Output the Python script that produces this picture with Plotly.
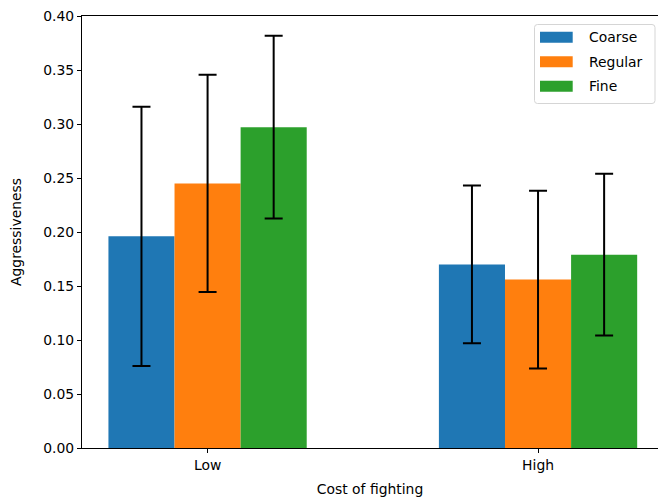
import plotly.graph_objects as go

categories = ["Low", "High"]
series_names = ["Coarse", "Regular", "Fine"]
colors = ["#1f77b4", "#ff7f0e", "#2ca02c"]
means = {
    "Coarse": [0.196, 0.170],
    "Regular": [0.245, 0.156],
    "Fine": [0.297, 0.179],
}
errors = {
    "Coarse": [0.120, 0.073],
    "Regular": [0.1005, 0.0823],
    "Fine": [0.0846, 0.0749],
}
y_ticks = [0.0, 0.05, 0.10, 0.15, 0.20, 0.25, 0.30, 0.35, 0.40]

FONT = "DejaVu Sans"
FS = 13.9
W, H = 658, 498
ML, MR, MT, MB = 82, 0, 16, 50
PW, PH = W - ML - MR, H - MT - MB


def px_x(p):
    return (p - ML) / PW


def px_y(p):
    return (H - MB - p) / PH


fig = go.Figure()
for name, col in zip(series_names, colors):
    fig.add_trace(go.Bar(
        name=name,
        x=categories,
        y=means[name],
        marker=dict(color=col, line=dict(width=0)),
        error_y=dict(type="data", array=errors[name], visible=True,
                     color="black", thickness=2, width=9),
        showlegend=False,
    ))

# legend (drawn manually to match matplotlib style)
shapes = []
annotations = []
bx0, bx1, by0, by1, r = 534.5, 655, 24.5, 103.5, 3
path = (f"M {px_x(bx0 + r)},{px_y(by0)} L {px_x(bx1 - r)},{px_y(by0)} "
        f"Q {px_x(bx1)},{px_y(by0)} {px_x(bx1)},{px_y(by0 + r)} "
        f"L {px_x(bx1)},{px_y(by1 - r)} "
        f"Q {px_x(bx1)},{px_y(by1)} {px_x(bx1 - r)},{px_y(by1)} "
        f"L {px_x(bx0 + r)},{px_y(by1)} "
        f"Q {px_x(bx0)},{px_y(by1)} {px_x(bx0)},{px_y(by1 - r)} "
        f"L {px_x(bx0)},{px_y(by0 + r)} "
        f"Q {px_x(bx0)},{px_y(by0)} {px_x(bx0 + r)},{px_y(by0)} Z")
shapes.append(dict(type="path", xref="paper", yref="paper", path=path,
                   fillcolor="rgba(255,255,255,0.8)",
                   line=dict(color="#d5d5d5", width=1), layer="above"))
row_centers = [37.2, 61.7, 86.2]
for name, col, cy in zip(series_names, colors, row_centers):
    shapes.append(dict(type="rect", xref="paper", yref="paper",
                       x0=px_x(540), x1=px_x(572.7),
                       y0=px_y(cy - 5.5), y1=px_y(cy + 5.5),
                       fillcolor=col, line=dict(width=0), layer="above"))
    annotations.append(dict(text=name, xref="paper", yref="paper",
                            x=px_x(586.5), y=px_y(cy), xanchor="left",
                            yanchor="middle", showarrow=False,
                            font=dict(family=FONT, size=FS, color="black")))

fig.update_layout(
    width=W, height=H,
    margin=dict(l=ML, r=MR, t=MT, b=MB),
    barmode="group", bargap=0.4, bargroupgap=0,
    plot_bgcolor="white", paper_bgcolor="white",
    font=dict(family=FONT, size=FS, color="black"),
    showlegend=False,
    shapes=shapes,
    annotations=annotations,
    xaxis=dict(
        type="category", range=[-0.38, 1.363],
        showline=True, linecolor="black", linewidth=1.1, mirror=True,
        ticks="outside", ticklen=4, tickcolor="black", tickwidth=1,
        showgrid=False, zeroline=False,
        title=dict(text="Cost of fighting", standoff=12, font=dict(size=FS)),
    ),
    yaxis=dict(
        range=[0, 0.40], tickvals=y_ticks, tickformat=".2f",
        showline=True, linecolor="black", linewidth=1.1, mirror=False,
        ticks="outside", ticklen=4, tickcolor="black", tickwidth=1,
        showgrid=False, zeroline=False,
        title=dict(text="Aggressiveness", standoff=18, font=dict(size=FS)),
    ),
)

fig.write_html("out.html", config={"displayModeBar": False},
               post_script="document.body.style.margin='0';")
